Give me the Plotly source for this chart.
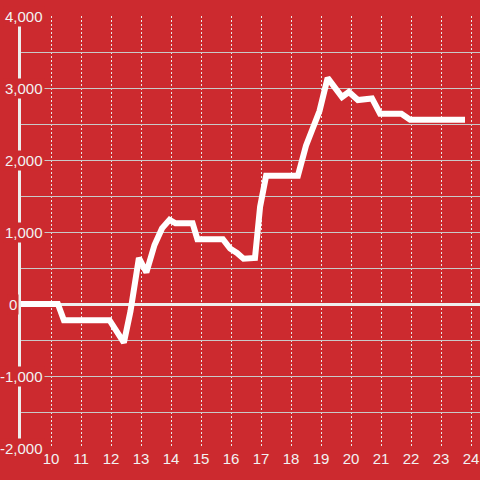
import plotly.graph_objects as go

# Data
x_vals = [9.0, 10.23, 10.43, 11.95, 12.43, 12.65, 12.93, 13.18, 13.45, 13.7, 13.95,
          14.15, 14.72, 14.88, 15.73, 15.97, 16.2, 16.42, 16.8, 16.97, 17.17,
          18.23, 18.5, 18.95, 19.22, 19.7, 19.93, 20.23, 20.7, 20.97, 21.68, 21.97, 23.8]
y_vals = [0, 0, -225, -225, -535, -100, 640, 440, 820, 1050, 1170,
          1120, 1120, 900, 900, 770, 710, 630, 640, 1350, 1780,
          1780, 2200, 2680, 3140, 2875, 2945, 2833, 2855, 2643, 2643, 2560, 2560]

x_ticks = list(range(10, 25))
x_tick_labels = [str(v) for v in x_ticks]
y_ticks = [-2000, -1000, 0, 1000, 2000, 3000, 4000]
y_tick_labels = ["-2,000", "-1,000", "0", "1,000", "2,000", "3,000", "4,000"]

BG = "#cc2a2f"
FONT = "Liberation Sans, Arial, sans-serif"
LABEL_COLOR = "#f2f2f2"

fig = go.Figure(
    go.Scatter(
        x=x_vals, y=y_vals, mode="lines",
        line=dict(color="#ffffff", width=6),
        cliponaxis=False, hoverinfo="skip",
    )
)

fig.update_layout(
    width=480, height=480,
    margin=dict(l=21, r=0, t=16, b=32),
    paper_bgcolor=BG, plot_bgcolor=BG,
    showlegend=False,
    xaxis=dict(
        range=[9, 24.3],
        tickvals=x_ticks, ticktext=x_tick_labels,
        showgrid=True, gridcolor="#e8e8e8", griddash="2px,2px", gridwidth=1,
        zeroline=False, showline=False, ticks="",
        tickfont=dict(family=FONT, size=15, color=LABEL_COLOR),
    ),
    yaxis=dict(
        range=[-2000, 4000], tick0=0, dtick=500,
        showticklabels=False,
        showgrid=True, gridcolor="#c9c9c9", gridwidth=1,
        zeroline=True, zerolinecolor="#eeeeee", zerolinewidth=3,
        showline=True, linecolor="#eeeeee", linewidth=3, ticks="",
    ),
)

annotations = []
for v, t in zip(y_ticks, y_tick_labels):
    shift = -2 if v == 0 else 24
    annotations.append(dict(
        xref="paper", yref="y", x=0, y=v,
        xanchor="right", yanchor="middle", xshift=shift,
        text=t, showarrow=False, bgcolor=BG, borderpad=1,
        font=dict(family=FONT, size=15, color=LABEL_COLOR),
    ))
fig.update_layout(annotations=annotations)

fig.write_html(
    "out.html",
    config={"displayModeBar": False},
    post_script="document.body.style.margin='0px';document.body.style.background='" + BG + "';",
)
